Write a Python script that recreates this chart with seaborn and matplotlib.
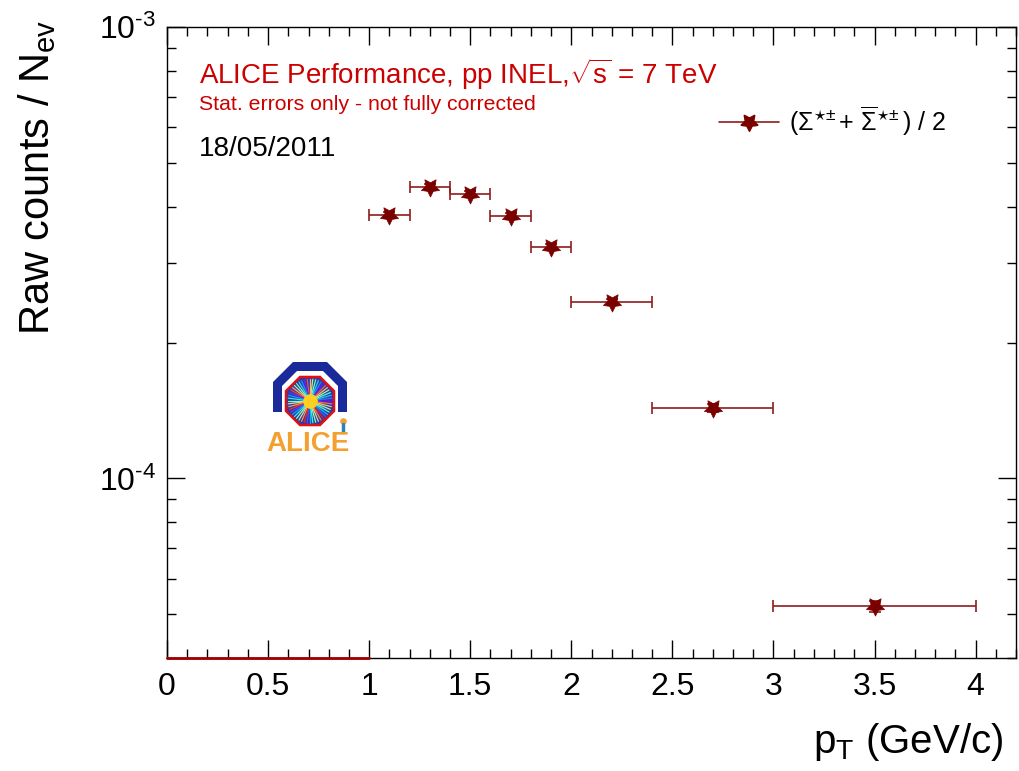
import numpy as np
import pandas as pd
import matplotlib
matplotlib.use("Agg")
import matplotlib.pyplot as plt
import seaborn as sns
from matplotlib.lines import Line2D
from matplotlib.patches import Polygon
from matplotlib.ticker import LogLocator, FuncFormatter, MultipleLocator, NullFormatter

# ---- data ----
pt_center = [1.1, 1.3, 1.5, 1.7, 1.9, 2.2, 2.7, 3.5]
pt_low = [1.0, 1.2, 1.4, 1.6, 1.8, 2.0, 2.4, 3.0]
pt_high = [1.2, 1.4, 1.6, 1.8, 2.0, 2.4, 3.0, 4.0]
raw_yield = [3.84e-4, 4.43e-4, 4.27e-4, 3.82e-4, 3.26e-4, 2.46e-4, 1.43e-4, 5.21e-5]
stat_err = [6e-6, 6e-6, 6e-6, 6e-6, 5e-6, 4e-6, 3e-6, 1.5e-6]
empty_bins = [0.0, 1.0]
legend_label = r"$(\Sigma^{\star\!\pm}$+ $\overline{\Sigma}^{\star\!\pm})$ / 2"
title_text = r"ALICE Performance, pp INEL,$\sqrt{\rm s}$ = 7 TeV"
sub_text = "Stat. errors only - not fully corrected"
date_text = "18/05/2011"

sns.set_theme(style="white")
plt.rcParams["font.family"] = ["Liberation Sans", "DejaVu Sans"]
plt.rcParams["mathtext.fontset"] = "custom"
plt.rcParams["mathtext.rm"] = "Liberation Sans"
plt.rcParams["mathtext.it"] = "Liberation Sans:italic"
plt.rcParams["mathtext.bf"] = "Liberation Sans:bold"
plt.rcParams["text.color"] = "black"
plt.rcParams["axes.labelcolor"] = "black"

W, H = 1019, 771
fig = plt.figure(figsize=(W / 100, H / 100), dpi=100)
fig.patch.set_facecolor("white")
ax = fig.add_axes([167 / W, 1 - 658 / H, (1016 - 167) / W, (658 - 27) / H])
ax.set_facecolor("white")

df = pd.DataFrame({"pt": pt_center, "y": raw_yield, "lo": pt_low, "hi": pt_high, "err": stat_err})
xerr = np.vstack([df.pt - df.lo, df.hi - df.pt])

mark_col = "#7a0000"
bar_col = "#8e1c1c"
ax.errorbar(df.pt, df.y, xerr=xerr, yerr=df.err, fmt="none", ecolor=bar_col,
            elinewidth=1.2, capsize=4, capthick=1.2, zorder=2)
sns.scatterplot(data=df, x="pt", y="y", ax=ax, marker=(5, 1, 180), s=190,
                color=mark_col, edgecolor=mark_col, linewidth=0.5, zorder=3, legend=False)

ax.set_yscale("log")
ax.set_xlim(0, 4.2)
ax.set_ylim(4e-5, 1e-3)

# empty bins drawn along the bottom
ax.plot(empty_bins, [4e-5, 4e-5], color="#a00000", lw=2, clip_on=False, zorder=5)


def log_label(v, pos):
    e = int(round(np.log10(v)))
    sign = "\u2010" if e < 0 else ""
    return r"$10^{\mathrm{" + sign + str(abs(e)) + "}}$"


ax.xaxis.set_major_locator(MultipleLocator(0.5))
ax.xaxis.set_minor_locator(MultipleLocator(0.1))
ax.xaxis.set_major_formatter(FuncFormatter(lambda v, p: f"{v:g}"))
ax.yaxis.set_major_locator(LogLocator(base=10, numticks=10))
ax.yaxis.set_minor_locator(LogLocator(base=10, subs=np.arange(2, 10), numticks=20))
ax.yaxis.set_major_formatter(FuncFormatter(log_label))
ax.yaxis.set_minor_formatter(NullFormatter())
ax.tick_params(which="both", direction="in", top=True, right=True, bottom=True, left=True,
               colors="black", labelsize=23, width=1)
ax.tick_params(which="major", length=13, pad=10)
ax.tick_params(which="minor", length=6.5)
ax.tick_params(axis="y", which="major", pad=8)
for s in ax.spines.values():
    s.set_color("black")
    s.set_linewidth(1)
ax.set_xlabel("")
ax.set_ylabel("")

fig.text(37 / W, 1 - 20 / H, r"Raw counts / N$_{\rm ev}$", rotation=90, ha="center", va="top",
         fontsize=30, color="black")
fig.text(1003 / W, 1 - 742 / H, r"p$_{\rm T}$ (GeV/c)", ha="right", va="center", fontsize=29,
         color="black")

red = "#cc0000"
fig.text(199 / W, 1 - 74 / H, title_text, color=red, fontsize=20, ha="left", va="center")
fig.text(199 / W, 1 - 105 / H, sub_text, color=red, fontsize=15.3, ha="left", va="center")
fig.text(199 / W, 1 - 149 / H, date_text, color="black", fontsize=20, ha="left", va="center")

handle = Line2D([0], [0], color=bar_col, lw=1.2, marker=(5, 1, 180), markersize=13,
                markerfacecolor=mark_col, markeredgecolor=mark_col)
leg = ax.legend([handle], [legend_label], loc="upper left",
                bbox_to_anchor=((709 - 167) / (1016 - 167), 1 - (95 - 27) / (658 - 27)),
                frameon=False, fontsize=18, handlelength=2.4, handletextpad=0.4, borderaxespad=0)
for t in leg.get_texts():
    t.set_color("black")

# ---- ALICE logo (decorative) ----
lax = fig.add_axes([258 / W, 1 - 458 / H, 100 / W, 98 / H])
lax.set_xlim(0, 100)
lax.set_ylim(0, 98)
lax.axis("off")
cx, cy = 52, 60
ang = np.deg2rad(22.5 + 45 * np.arange(8))
arch_out = [(cx - 37, cy - 14), (cx - 37, cy + 16), (cx - 17, cy + 36), (cx + 17, cy + 36),
            (cx + 37, cy + 16), (cx + 37, cy - 14)]
arch_in = [(cx + 28, cy - 14), (cx + 28, cy + 12), (cx + 13, cy + 27), (cx - 13, cy + 27),
           (cx - 28, cy + 12), (cx - 28, cy - 14)]
lax.add_patch(Polygon(arch_out + arch_in, closed=True, facecolor="#1a2a9a", edgecolor="none"))
inner = np.c_[cx + 26 * np.cos(ang), cy - 3 + 26 * np.sin(ang)]
lax.add_patch(Polygon(inner, closed=True, facecolor="#2a3ab0", edgecolor="#e01010", lw=1.8))
cmap = plt.get_cmap("rainbow")
for k, a in enumerate(np.linspace(0, 2 * np.pi, 48, endpoint=False)):
    r = 22
    lax.plot([cx, cx + r * np.cos(a)], [cy - 3, cy - 3 + r * np.sin(a)],
             color=cmap((k * 7 % 48) / 48), lw=0.9)
lax.scatter([cx], [cy - 3], s=90, color="#ffd020", zorder=4)
lax.text(cx - 2, 14, "ALICE", color="#f4a030", fontsize=20, fontweight="bold", ha="center", va="center")
lax.plot([cx + 33, cx + 33], [26, 34], color="#3080c0", lw=2.5)
lax.scatter([cx + 33], [37], s=14, color="#f0a030")

fig.savefig("out.png", dpi=100, facecolor="white")
